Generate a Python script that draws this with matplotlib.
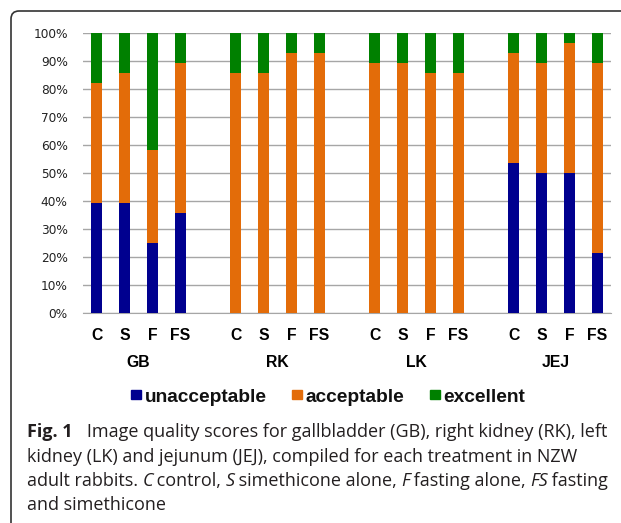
import matplotlib
matplotlib.use("Agg")
import matplotlib.pyplot as plt
from matplotlib.path import Path
from matplotlib.patches import PathPatch, Rectangle
from matplotlib.transforms import blended_transform_factory

# data (fractions of animals per score)
organs = ["GB", "RK", "LK", "JEJ"]
treatments = ["C", "S", "F", "FS"]
unacceptable = [0.393, 0.393, 0.25, 0.357,
                0.0, 0.0, 0.0, 0.0,
                0.0, 0.0, 0.0, 0.0,
                0.536, 0.50, 0.50, 0.214]
acceptable = [0.428, 0.464, 0.333, 0.536,
              0.857, 0.857, 0.929, 0.929,
              0.893, 0.893, 0.857, 0.857,
              0.393, 0.393, 0.464, 0.679]
excellent = [1 - u - a for u, a in zip(unacceptable, acceptable)]
score_names = ["unacceptable", "acceptable", "excellent"]

col_un = "#00008F"
col_ac = "#E36C09"
col_ex = "#008000"
colors = [col_un, col_ac, col_ex]

W, H = 621, 523
fig = plt.figure(figsize=(W / 100, H / 100), dpi=100)
ax = fig.add_axes([83 / W, (H - 313) / H, (611 - 83) / W, 280 / H])

pos = []
for g in range(len(organs)):
    for t in range(len(treatments)):
        pos.append(g * 5 + t)

bw = 0.4
ax.bar(pos, unacceptable, bw, color=col_un, zorder=3)
ax.bar(pos, acceptable, bw, bottom=unacceptable, color=col_ac, zorder=3)
bot2 = [u + a for u, a in zip(unacceptable, acceptable)]
ax.bar(pos, excellent, bw, bottom=bot2, color=col_ex, zorder=3)

ax.set_xlim(-0.5, 18.5)
ax.set_ylim(0, 1)
ax.set_yticks([i / 10 for i in range(11)])
ax.set_yticklabels(["%d%%" % (i * 10) for i in range(11)], fontsize=8.7, color="#222222")
ax.yaxis.grid(True, color="#A6A6A6", linewidth=1.0, zorder=0)
ax.set_axisbelow(True)
for s in ["top", "right", "left"]:
    ax.spines[s].set_visible(False)
ax.spines["bottom"].set_color("#A6A6A6")
ax.tick_params(axis="y", length=0, pad=11)
ax.tick_params(axis="x", length=0, pad=11)
ax.set_xticks(pos)
ax.set_xticklabels(treatments * len(organs), fontsize=11.3, fontweight="bold",
                   family="Liberation Sans")

trans = blended_transform_factory(ax.transData, ax.transAxes)
for g, name in enumerate(organs):
    xc = g * 5 + 1.5
    ax.text(xc, -0.178, name, transform=trans, ha="center", va="center",
            fontsize=11.3, fontweight="bold", family="Liberation Sans")

# frame with rounded top-left corner
r = 8
verts = [(W, 11), (11 + r, 11), (11, 11), (11, 11 + r), (11, H)]
verts = [(x / W, (H - y) / H) for x, y in verts]
codes = [Path.MOVETO, Path.LINETO, Path.CURVE3, Path.CURVE3, Path.LINETO]
fig.add_artist(PathPatch(Path(verts, codes), transform=fig.transFigure,
                         facecolor="none", edgecolor="#333333", linewidth=1.2))

fig.canvas.draw()
renderer = fig.canvas.get_renderer()

# legend, laid out by hand so all labels share one baseline
x = 131
for name, c in zip(score_names, colors):
    fig.add_artist(Rectangle((x / W, (H - 399) / H), 10 / W, 9.5 / H,
                             transform=fig.transFigure, color=c))
    t = fig.text((x + 14) / W, (H - 402) / H, name, fontsize=13.8, weight="bold",
                 family="Liberation Sans", color="#111111", ha="left", va="baseline")
    x += 14 + t.get_window_extent(renderer).width + 25

# caption
cap_lines = [
    [("Fig. 1", "bold", "normal"), ("   Image quality scores for gallbladder (GB), right kidney (RK), left", "normal", "normal")],
    [("kidney (LK) and jejunum (JEJ), compiled for each treatment in NZW", "normal", "normal")],
    [("adult rabbits. ", "normal", "normal"), ("C", "normal", "italic"), (" control, ", "normal", "normal"),
     ("S", "normal", "italic"), (" simethicone alone, ", "normal", "normal"), ("F", "normal", "italic"),
     (" fasting alone, ", "normal", "normal"), ("FS", "normal", "italic"), (" fasting", "normal", "normal")],
    [("and simethicone", "normal", "normal")],
]
line_y = [432, 457, 481, 505]
for parts, yy in zip(cap_lines, line_y):
    x = 27
    for txt, wt, st in parts:
        t = fig.text(x / W, (H - yy) / H, txt, fontsize=13.0, family="Open Sans",
                     weight=wt, style=st, color="#231F20", ha="left", va="center")
        x += t.get_window_extent(renderer).width - (1 if st == "italic" else 0)

fig.savefig("out.png", dpi=100)
